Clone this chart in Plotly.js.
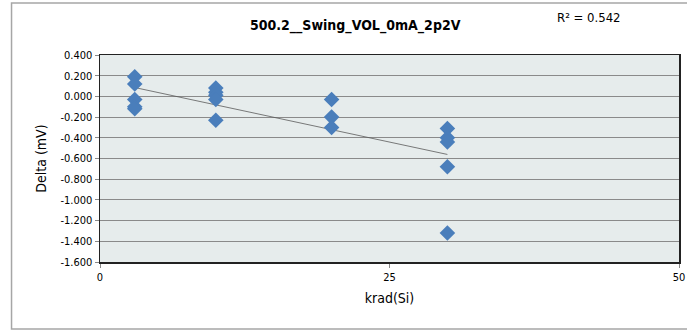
<!DOCTYPE html>
<html>
<head>
<meta charset="utf-8">
<script src="https://cdn.plot.ly/plotly-3.0.1.min.js"></script>
<style>html,body{margin:0;padding:0;background:#fff;}#chart{width:687px;height:330px;}</style>
</head>
<body>
<div id="chart"></div>
<script>
// Data
const doseX = [3, 3, 3, 3, 3, 10, 10, 10, 10, 10, 20, 20, 20, 30, 30, 30, 30, 30];
const deltaY = [0.19, 0.12, -0.03, -0.10, -0.12, 0.08, 0.04, 0.01, -0.03, -0.23, -0.03, -0.20, -0.30, -0.31, -0.40, -0.44, -0.68, -1.32];
const yTickVals = [0.4, 0.2, 0, -0.2, -0.4, -0.6, -0.8, -1.0, -1.2, -1.4, -1.6];
const yTickText = ["0.400", "0.200", "0.000", "-0.200", "-0.400", "-0.600", "-0.800", "-1.000", "-1.200", "-1.400", "-1.600"];
const xTickVals = [0, 25, 50];
const xTickText = ["0", "25", "50"];
const chartTitle = "500.2__Swing_VOL_0mA_2p2V";
const xTitle = "krad(Si)";
const yTitle = "Delta (mV)";
const r2Label = "R² = 0.542";

// Linear least-squares trendline computed from the data
const n = doseX.length;
const mx = doseX.reduce((a, b) => a + b, 0) / n;
const my = deltaY.reduce((a, b) => a + b, 0) / n;
let sxy = 0, sxx = 0;
for (let i = 0; i < n; i++) { sxy += (doseX[i] - mx) * (deltaY[i] - my); sxx += (doseX[i] - mx) ** 2; }
const slope = sxy / sxx;
const intercept = my - slope * mx;
const xMin = Math.min(...doseX), xMax = Math.max(...doseX);
const trendX = [xMin, xMax];
const trendY = trendX.map(x => intercept + slope * x);

const font = "Liberation Sans Narrow, DejaVu Sans Condensed, Liberation Sans, sans-serif";

const data = [
  {
    x: trendX, y: trendY, type: "scatter", mode: "lines",
    line: { color: "#5a5a5a", width: 0.8 }, hoverinfo: "skip", showlegend: false
  },
  {
    x: doseX, y: deltaY, type: "scatter", mode: "markers",
    marker: { symbol: "diamond", size: 12, color: "#4a7ebb", line: { width: 0 } },
    showlegend: false
  }
];

const layout = {
  width: 687, height: 330,
  margin: { l: 100, r: 8, t: 55, b: 68 },
  paper_bgcolor: "#ffffff",
  plot_bgcolor: "#e6ecec",
  font: { family: font, size: 11, color: "#000" },
  title: { text: "<b>" + chartTitle + "</b>", font: { family: font, size: 14, color: "#000" }, x: 0.517, xanchor: "center", y: 0.925, yanchor: "middle" },
  xaxis: {
    range: [0, 50], tickvals: xTickVals, ticktext: xTickText,
    showgrid: false, zeroline: false,
    showline: true, linecolor: "#222", linewidth: 1.5, mirror: true,
    ticks: "outside", ticklen: 4, tickcolor: "#888", tickwidth: 1,
    tickfont: { family: font, size: 11 },
    title: { text: xTitle, font: { family: font, size: 14 }, standoff: 10 }
  },
  yaxis: {
    range: [-1.6, 0.4], tickvals: yTickVals, ticktext: yTickText,
    showgrid: true, gridcolor: "#8a8a8a", gridwidth: 1, zeroline: false,
    showline: true, linecolor: "#222", linewidth: 1.5, mirror: true,
    ticks: "outside", ticklen: 4, tickcolor: "#888", tickwidth: 1,
    tickfont: { family: font, size: 11 },
    title: { text: yTitle, font: { family: font, size: 14 }, standoff: 10 }
  },
  annotations: [
    { text: r2Label, xref: "paper", yref: "paper", x: 0.845, y: 1.179, xanchor: "center", yanchor: "middle", showarrow: false, font: { family: font, size: 13, color: "#000" } }
  ],
  shapes: [
    { type: "rect", xref: "paper", yref: "paper", x0: -0.1528, x1: 1.1, y0: -0.3237, y1: 1.251, line: { color: "#a6a6a6", width: 1.5 }, fillcolor: "rgba(0,0,0,0)", layer: "below" }
  ]
};

Plotly.newPlot("chart", data, layout, { displayModeBar: false, staticPlot: true });
</script>
</body>
</html>
